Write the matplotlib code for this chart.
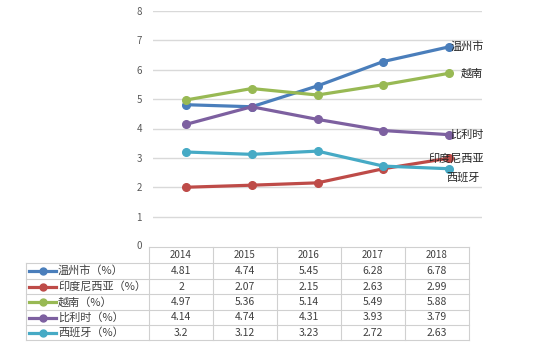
import matplotlib.pyplot as plt

plt.rcParams['font.family'] = ['Noto Sans CJK SC', 'DejaVu Sans']

years = ['2014', '2015', '2016', '2017', '2018']
names = ['温州市', '印度尼西亚', '越南', '比利时', '西班牙']
wenzhou = [4.81, 4.74, 5.45, 6.28, 6.78]
indonesia = [2, 2.07, 2.15, 2.63, 2.99]
vietnam = [4.97, 5.36, 5.14, 5.49, 5.88]
belgium = [4.14, 4.74, 4.31, 3.93, 3.79]
spain = [3.2, 3.12, 3.23, 2.72, 2.63]
series = [wenzhou, indonesia, vietnam, belgium, spain]
cell_text = ['4.81', '4.74', '5.45', '6.28', '6.78'], ['2', '2.07', '2.15', '2.63', '2.99'], \
    ['4.97', '5.36', '5.14', '5.49', '5.88'], ['4.14', '4.74', '4.31', '3.93', '3.79'], \
    ['3.2', '3.12', '3.23', '2.72', '2.63']

colors = ['#4a7ebb', '#be4b48', '#98b954', '#7d60a0', '#46aac5']
# label offsets in pixels relative to last point (dx, dy, ha)
label_pos = [(1, 0, 'left'), (35, 0, 'right'), (12, 0, 'left'), (1, 0, 'left'), (-3, -9, 'left')]

W, H = 537, 351
fig = plt.figure(figsize=(W / 100, H / 100), dpi=100)

# plot area in pixels: x 153..482, y 11..246
ax = fig.add_axes([153 / W, (H - 246) / H, 329 / W, 235 / H])
x = range(len(years))
for s, c, n, (dx, dy, ha) in zip(series, colors, names, label_pos):
    ax.plot(x, s, color=c, lw=2.3, marker='o', ms=5.5, zorder=3)
    ax.annotate(n, (x[-1], s[-1]), xytext=(dx, dy), textcoords='offset pixels',
                ha=ha, va='center', fontsize=8, color='#262626', zorder=4)
ax.set_xlim(-0.5, 4.5)
ax.set_ylim(0, 8)
ax.set_yticks(range(9))
ax.set_yticks(range(1, 9))
ax.yaxis.grid(True, color='#d9d9d9', lw=1)
ax.set_axisbelow(True)
ax.set_xticks([])
for sp in ax.spines.values():
    sp.set_visible(False)
ax.tick_params(axis='y', length=0, labelsize=7, labelcolor='#595959', pad=8)
ax.patch.set_alpha(0)

# table drawn in pixel coordinates
tb = fig.add_axes([0, 0, 1, 1])
tb.set_xlim(0, W)
tb.set_ylim(H, 0)
tb.axis('off')
tb.patch.set_alpha(0)

tb.text(142, 246, '0', ha='right', va='center', fontsize=7, color='#595959')
col_x = [149, 213, 277, 341, 405, 469]
row_y = [247, 263, 279, 294, 310, 325, 340]
left = 26
gc = '#d0d0d0'
tb.plot([col_x[0], col_x[-1]], [row_y[0], row_y[0]], color=gc, lw=0.8)
for yy in row_y[1:]:
    tb.plot([left, col_x[-1]], [yy, yy], color=gc, lw=0.8)
for xx in col_x:
    tb.plot([xx, xx], [row_y[0], row_y[-1]], color=gc, lw=0.8)
tb.plot([left, left], [row_y[1], row_y[-1]], color=gc, lw=0.8)

for i, yr in enumerate(years):
    cx = (col_x[i] + col_x[i + 1]) / 2
    tb.text(cx, (row_y[0] + row_y[1]) / 2, yr, ha='center', va='center', fontsize=7, color='#404040')
for r, (n, c, vals) in enumerate(zip(names, colors, cell_text)):
    cy = (row_y[r + 1] + row_y[r + 2]) / 2
    tb.plot([29, 56], [cy, cy], color=c, lw=2.3)
    tb.plot([42.5], [cy], color=c, marker='o', ms=5)
    tb.text(58, cy, n + '（%）', ha='left', va='center', fontsize=8, color='#404040')
    for i, v in enumerate(vals):
        cx = (col_x[i] + col_x[i + 1]) / 2
        tb.text(cx, cy, v, ha='center', va='center', fontsize=7.5, color='#404040')

fig.savefig('out.png', dpi=100)
